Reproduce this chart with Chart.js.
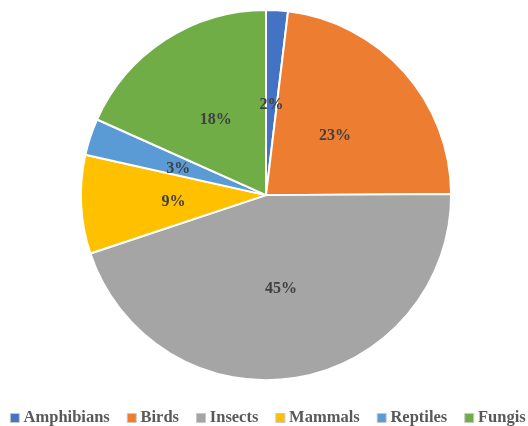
<!DOCTYPE html>
<html>
<head>
<meta charset="utf-8">
<script src="https://cdn.jsdelivr.net/npm/chart.js@4"></script>
<style>
html,body{margin:0;padding:0;background:#fff;}
#wrap{width:528px;height:426px;position:relative;}
</style>
</head>
<body>
<div id="wrap"><canvas id="c" width="528" height="426"></canvas></div>
<script>
const categories = ['Amphibians', 'Birds', 'Insects', 'Mammals', 'Reptiles', 'Fungis'];
const values = [1.9, 23.0, 45.0, 8.6, 3.2, 18.3];
const colors = ['#4472C4', '#ED7D31', '#A5A5A5', '#FFC000', '#5B9BD5', '#70AD47'];

const pctLabels = {
  id: 'pctLabels',
  afterDatasetsDraw(chart) {
    const ctx = chart.ctx;
    const meta = chart.getDatasetMeta(0);
    const data = chart.data.datasets[0].data;
    const total = data.reduce((a, b) => a + b, 0);
    ctx.save();
    ctx.font = 'bold 16px "Liberation Serif", "Times New Roman", serif';
    ctx.fillStyle = '#404040';
    ctx.textAlign = 'center';
    ctx.textBaseline = 'middle';
    meta.data.forEach((arc, i) => {
      const p = arc.tooltipPosition();
      const pct = Math.round(data[i] / total * 100);
      ctx.fillText(pct + '%', p.x, p.y + 2.5);
    });
    ctx.restore();
  }
};

// small layout nudges (pie centre and legend row position)
const nudge = {
  id: 'nudge',
  afterLayout(chart) {
    chart.chartArea.left += 2;
    chart.chartArea.right += 2;
    if (chart.legend) {
      chart.legend.left += 4;
      chart.legend.right += 4;
      chart.legend.top += 1;
      chart.legend.bottom += 1;
    }
  }
};

new Chart(document.getElementById('c'), {
  type: 'pie',
  data: {
    labels: categories,
    datasets: [{
      data: values,
      backgroundColor: colors,
      borderColor: '#ffffff',
      borderWidth: 2,
      radius: '96.85%'
    }]
  },
  options: {
    responsive: false,
    animation: false,
    layout: { autoPadding: false, padding: { top: 3, left: -14, right: -18, bottom: -9.25 } },
    plugins: {
      tooltip: { enabled: false },
      legend: {
        position: 'bottom',
        labels: {
          usePointStyle: true,
          pointStyle: 'rect',
          boxWidth: 1,
          boxHeight: 9,
          padding: 21.5,
          color: '#595959',
          font: { family: '"Liberation Serif", "Times New Roman", serif', size: 16.5, weight: 'bold' },
          generateLabels(chart) {
            const base = Chart.overrides.pie.plugins.legend.labels.generateLabels(chart);
            return base.map(l => Object.assign(l, { strokeStyle: '#c8c8c8', lineWidth: 1, pointStyle: 'rect' }));
          }
        }
      }
    }
  },
  plugins: [nudge, pctLabels]
});
</script>
</body>
</html>
